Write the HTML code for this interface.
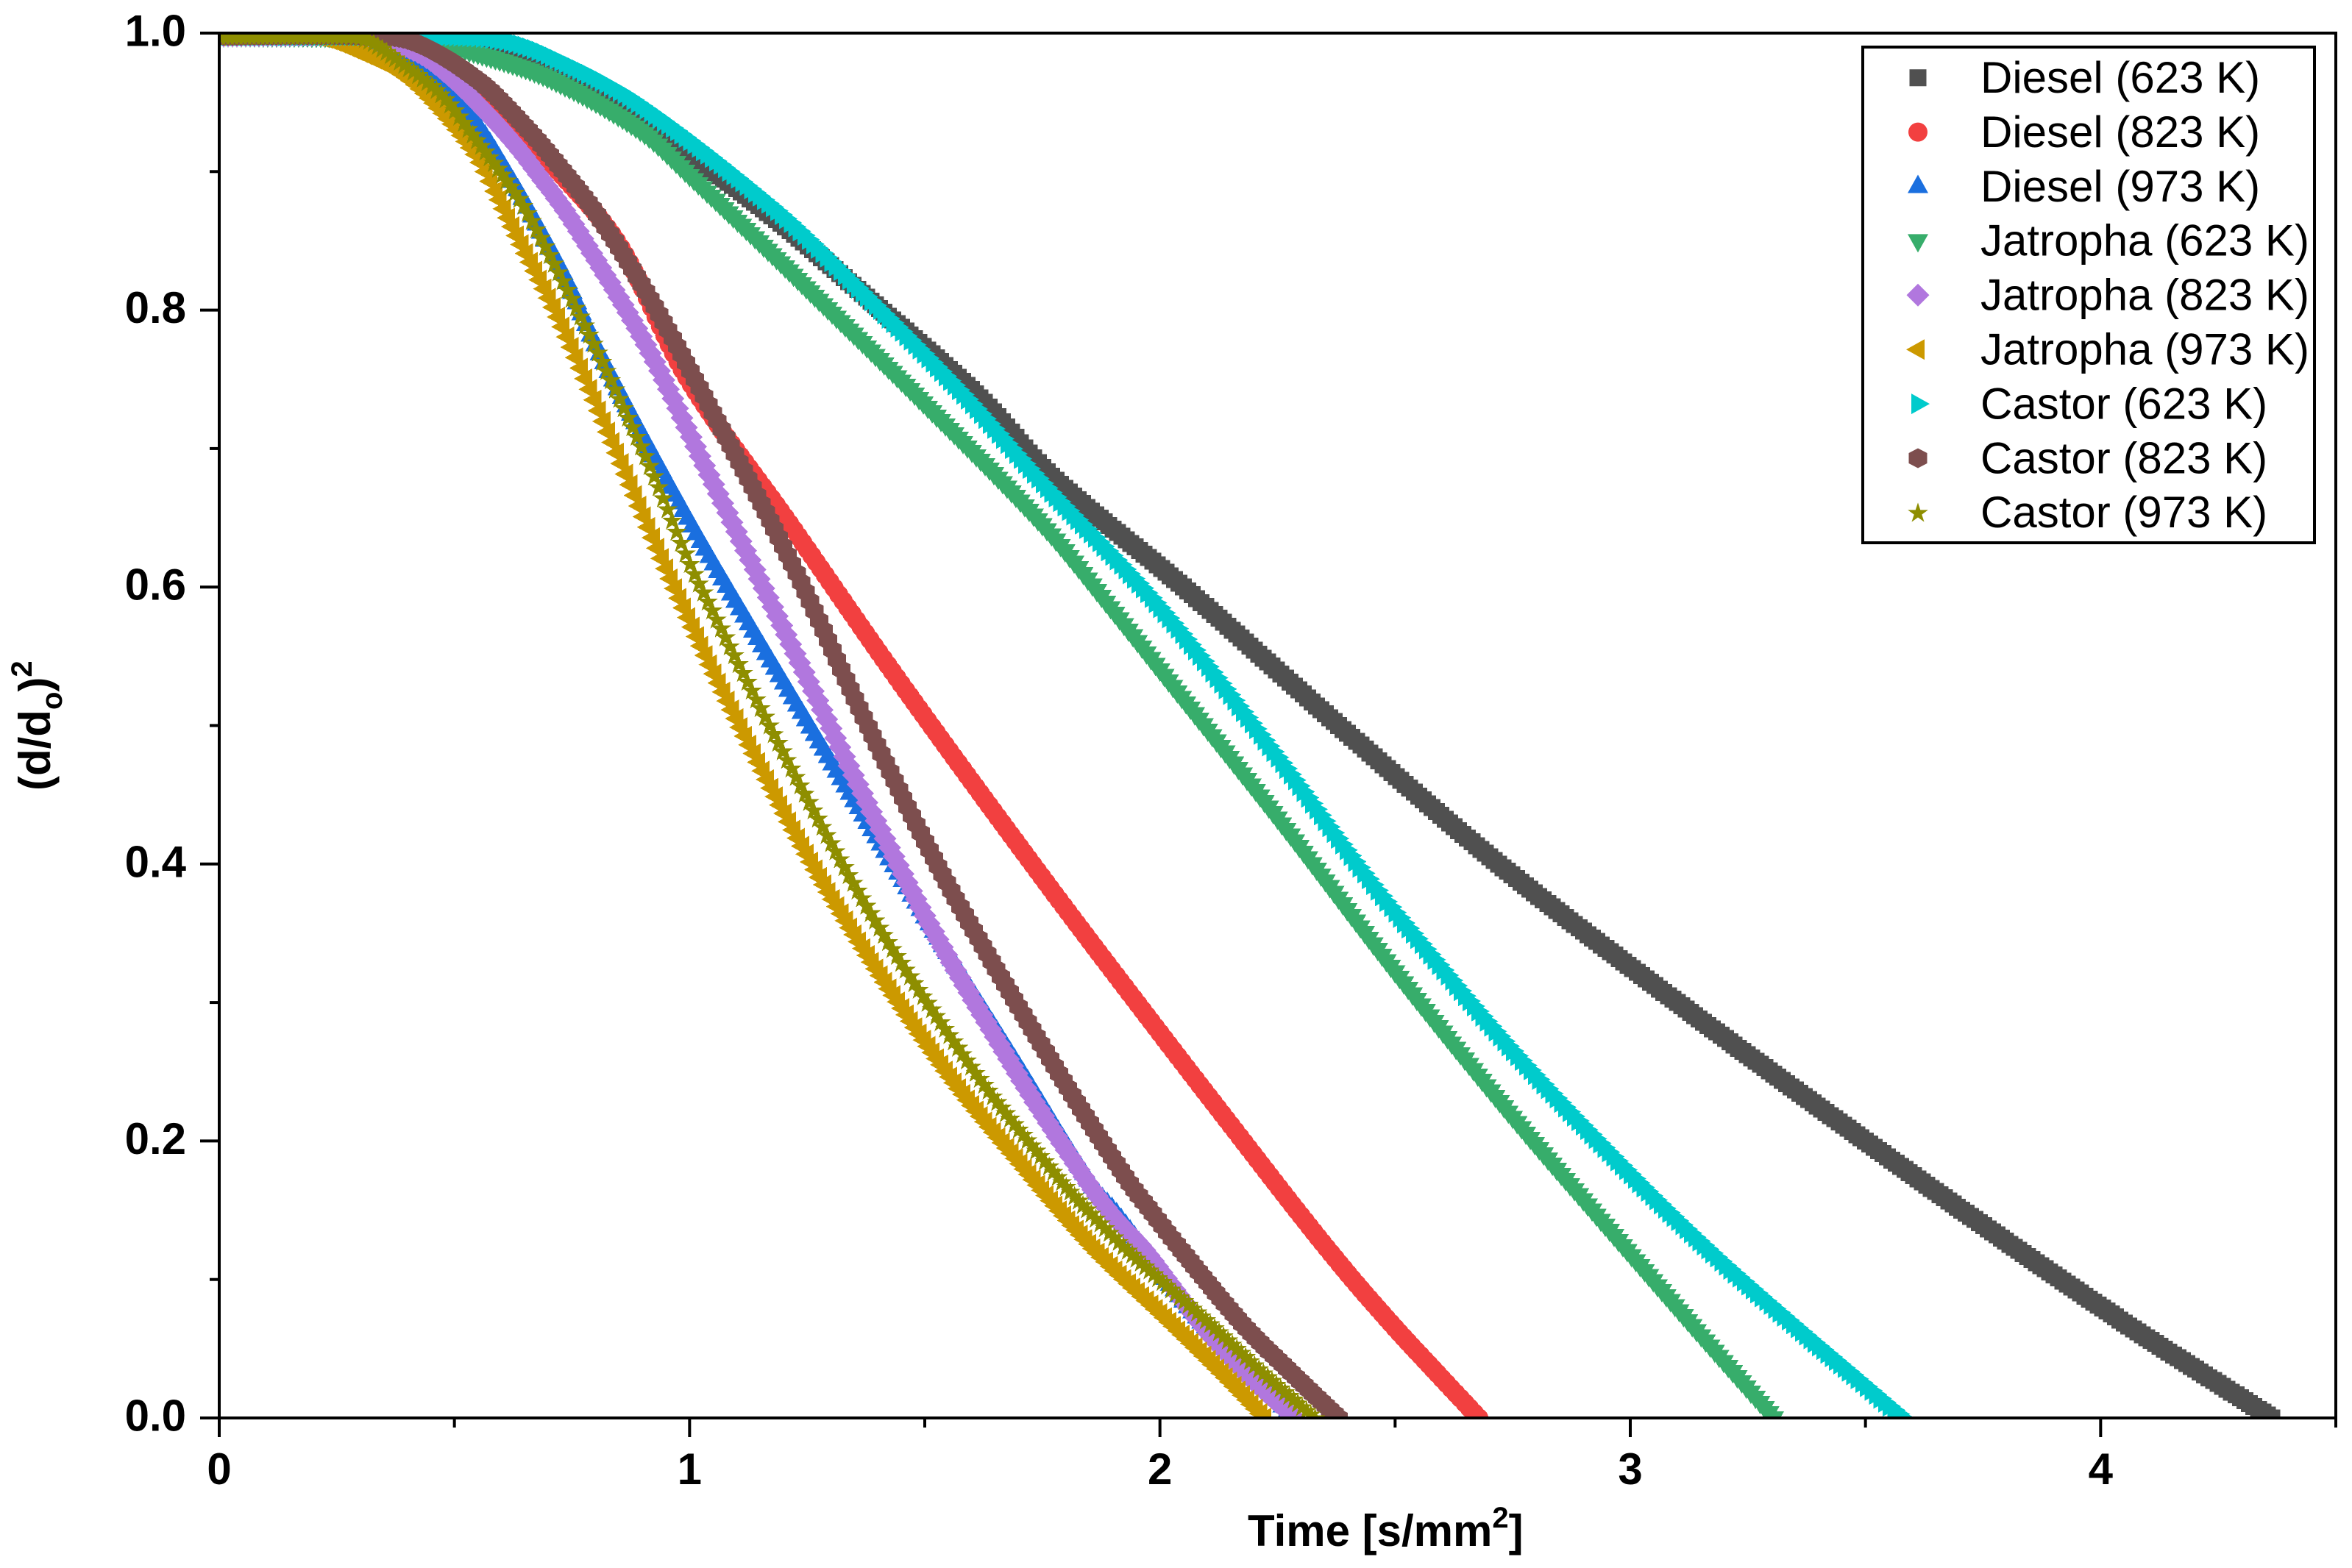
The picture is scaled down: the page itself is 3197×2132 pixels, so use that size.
<!DOCTYPE html>
<html lang="en">
<head>
<meta charset="utf-8">
<title>Droplet evaporation d-squared chart</title>
<style>
html,body{margin:0;padding:0;background:#fff;}
svg{display:block;}
text{font-family:"Liberation Sans",Arial,sans-serif;fill:#000;}
.bold{font-weight:bold;font-size:60px;}
.legend-text{font-size:60px;}
</style>
</head>
<body>
<svg id="chart" xmlns="http://www.w3.org/2000/svg" width="3197" height="2132" viewBox="0 0 3197 2132">
<rect x="0" y="0" width="3197" height="2132" fill="#fff"/>
<defs><clipPath id="plot-clip"><rect x="298" y="45" width="2877" height="1883"/></clipPath></defs>
<g id="series-layer" clip-path="url(#plot-clip)"></g>
<g id="axes-layer" stroke="#000" stroke-width="4" fill="none"></g>
<g id="labels-layer"></g>
<text class="bold" x="1696" y="2102">Time [s/mm<tspan font-size="40" dy="-25">2</tspan><tspan dy="25">]</tspan></text>
<text class="bold" transform="translate(68,1075) rotate(-90)" x="0" y="0">(d/d<tspan font-size="40" dy="16">o</tspan><tspan dy="-16">)</tspan><tspan font-size="40" dy="-25">2</tspan></text>
<g id="legend">
<rect x="2532" y="64" width="614" height="674" fill="#fff" stroke="#000" stroke-width="4"/>
</g>
</svg>
<script>
// Tick values
const xMajorTicks = [0, 1, 2, 3, 4];
const xMinorTicks = [0.5, 1.5, 2.5, 3.5, 4.5];
const yMajorTicks = [0, 0.2, 0.4, 0.6, 0.8, 1.0];
const yMinorTicks = [0.1, 0.3, 0.5, 0.7, 0.9];
const xTickLabels = ["0", "1", "2", "3", "4"];
const yTickLabels = ["0.0", "0.2", "0.4", "0.6", "0.8", "1.0"];

// Series readings: time [s/mm^2] and (d/do)^2
const diesel623Time = [0,.3,.5,.65,.8,.96,1.175,1.367,1.6175,1.77,2.05,2.38,2.72,3.1,3.5,3.826,4.06,4.24,4.364];
const diesel623Value = [.998,.997,.99,.978,.958,.922,.868,.812,.7366,.68,.6,.5,.4,.3,.2,.121,.0665,.027,0];
const diesel823Time = [0,.3,.42,.56,.64,.72,.854,.994,1.2125,1.45,1.758,2,2.17,2.3,2.4,2.5,2.59,2.678];
const diesel823Value = [.998,.998,.99,.9596,.9288,.9007,.845,.7515,.6458,.53,.3866,.278,.203,.146,.104,.065,.032,0];
const diesel973Time = [0,.2,.26,.3645,.45,.546,.624,.666,.741,.8,.923,1.07,1.444,1.7,1.858,1.908,2.079,2.223,2.28];
const diesel973Value = [.998,.998,.997,.985,.968,.935,.893,.868,.82,.775,.695,.606,.3935,.2539,.167,.1476,.073,.0255,0];
const jatropha623Time = [0,.3,.45,.55,.707,.895,1,1.176,1.257,1.469,1.75,1.895,2,2.25,2.5,2.75,2.975,3.141,3.237,3.305];
const jatropha623Value = [.998,.997,.993,.9852,.9665,.9297,.897,.84,.813,.7424,.645,.585,.54,.433,.322,.217,.128,.063,.026,0];
const jatropha823Time = [0,.28,.35,.45,.602,.707,.754,.907,1.032,1.158,1.463,1.687,1.838,1.896,1.968,2.087,2.18,2.287];
const jatropha823Value = [.998,.998,.995,.98,.93,.885,.862,.775,.6877,.599,.3866,.2539,.1742,.1476,.121,.068,.0325,0];
const jatropha973Time = [0,.2,.302,.4,.468,.546,.588,.624,.721,.8275,.9605,1.1,1.287,1.536,1.732,1.797,1.877,2.04,2.15,2.223];
const jatropha973Value = [.998,.998,.9857,.968,.9458,.9124,.8858,.8603,.795,.712,.606,.505,.385,.255,.172,.146,.116,.063,.026,0];
const castor623Time = [0,.4,.55,.629,.707,.88,1.176,1.339,1.572,1.75,2,2.25,2.405,2.5,2.75,3,3.174,3.355,3.473,3.58];
const castor623Value = [.998,.998,.997,.9926,.9827,.9517,.8744,.822,.7424,.675,.585,.477,.406,.365,.265,.176,.119,.065,.031,0];
const castor823Time = [0,.3,.41,.55,.649,.7305,.812,.926,1.04,1.218,1.38,1.547,1.776,1.926,1.985,2.046,2.175,2.28,2.38];
const castor823Value = [.998,.998,.994,.966,.933,.9007,.8646,.8025,.7318,.6166,.499,.3866,.2539,.1742,.1476,.121,.068,.0325,0];
const castor973Time = [0,.25,.31,.374,.472,.53,.629,.665,.796,.915,1.02,1.348,1.599,1.783,1.854,1.932,2.107,2.22,2.33];
const castor973Value = [.998,.998,.996,.982,.956,.931,.885,.8646,.7759,.6877,.6028,.3866,.2539,.1742,.1476,.121,.068,.0325,0];

const seriesLabels = ["Diesel (623 K)", "Diesel (823 K)", "Diesel (973 K)", "Jatropha (623 K)", "Jatropha (823 K)", "Jatropha (973 K)", "Castor (623 K)", "Castor (823 K)", "Castor (973 K)"];
const seriesKeys = ["diesel-623k", "diesel-823k", "diesel-973k", "jatropha-623k", "jatropha-823k", "jatropha-973k", "castor-623k", "castor-823k", "castor-973k"];
const seriesTimes = [diesel623Time, diesel823Time, diesel973Time, jatropha623Time, jatropha823Time, jatropha973Time, castor623Time, castor823Time, castor973Time];
const seriesValues = [diesel623Value, diesel823Value, diesel973Value, jatropha623Value, jatropha823Value, jatropha973Value, castor623Value, castor823Value, castor973Value];
const seriesColors = ["#505050", "#f24040", "#1a6fdf", "#37ad6b", "#b177de", "#cc9900", "#00cbcc", "#7d4e4e", "#8e8e00"];
const seriesShapes = ["square", "circle", "up", "down", "diamond", "left", "right", "hexagon", "star"];

const NS = "http://www.w3.org/2000/svg";
const plotLeft = 298, plotRight = 3175, plotTop = 45, plotBottom = 1928;
const xMax = 4.5, yMax = 1;
function xScale(t) { return plotLeft + (t / xMax) * (plotRight - plotLeft); }
function yScale(v) { return plotBottom - (v / yMax) * (plotBottom - plotTop); }

function poly(x, y, pts) {
  let d = "";
  for (let i = 0; i < pts.length; i++) {
    d += (i ? "L" : "M") + (x + pts[i][0]).toFixed(1) + " " + (y + pts[i][1]).toFixed(1);
  }
  return d + "Z";
}
function glyph(shape, x, y) {
  switch (shape) {
    case "square": return poly(x, y, [[-11.5,-11.5],[11.5,-11.5],[11.5,11.5],[-11.5,11.5]]);
    case "circle": return "M" + (x - 13).toFixed(1) + " " + y.toFixed(1) + "a13 13 0 1 0 26 0a13 13 0 1 0 -26 0Z";
    case "up": return poly(x, y, [[0,-16],[14,9],[-14,9]]);
    case "down": return poly(x, y, [[-14,-9],[14,-9],[0,16]]);
    case "diamond": return poly(x, y, [[0,-15.5],[15.5,0],[0,15.5],[-15.5,0]]);
    case "left": return poly(x, y, [[-16,0],[9,-14],[9,14]]);
    case "right": return poly(x, y, [[16,0],[-9,14],[-9,-14]]);
    case "hexagon": return poly(x, y, [[0,-13.5],[12.5,-7],[12.5,7],[0,13.5],[-12.5,7],[-12.5,-7]]);
    case "star": {
      const pts = [];
      for (let i = 0; i < 10; i++) {
        const r = i % 2 ? 5.6 : 14.5;
        const a = -Math.PI / 2 + i * Math.PI / 5;
        pts.push([r * Math.cos(a), r * Math.sin(a)]);
      }
      return poly(x, y + 1, pts);
    }
  }
  return "";
}

// Marker band: the series marker repeated along a smooth line through the readings (6 px pitch)
function tangent(xs, ys, i) {
  if (i === 0) return (ys[1] - ys[0]) / (xs[1] - xs[0]);
  if (i === xs.length - 1) return (ys[i] - ys[i - 1]) / (xs[i] - xs[i - 1]);
  return (ys[i + 1] - ys[i - 1]) / (xs[i + 1] - xs[i - 1]);
}
function bandPath(shape, times, values) {
  let d = "";
  const step = 6;
  const xs = times.map(xScale);
  const ys = values.map(yScale);
  for (let i = 0; i < xs.length - 1; i++) {
    const h = xs[i + 1] - xs[i];
    const m0 = tangent(xs, ys, i) * h;
    const m1 = tangent(xs, ys, i + 1) * h;
    const n = Math.max(1, Math.round(h / step));
    for (let k = 0; k < n; k++) {
      const f = k / n;
      const f2 = f * f;
      const f3 = f2 * f;
      const y = (2 * f3 - 3 * f2 + 1) * ys[i] + (f3 - 2 * f2 + f) * m0 + (-2 * f3 + 3 * f2) * ys[i + 1] + (f3 - f2) * m1;
      d += glyph(shape, xs[i] + h * f, y);
    }
  }
  return d;
}

const seriesLayer = document.getElementById("series-layer");
for (let s = 0; s < seriesKeys.length; s++) {
  const group = document.createElementNS(NS, "g");
  
  
  group.setAttribute("fill", seriesColors[s]);
  group.setAttribute("shape-rendering", "crispEdges");
  const band = document.createElementNS(NS, "path");
  
  
  band.setAttribute("d", bandPath(seriesShapes[s], seriesTimes[s], seriesValues[s]));
  group.appendChild(band);
  for (let i = 0; i < seriesTimes[s].length; i++) {
    const point = document.createElementNS(NS, "path");
    
    
    point.setAttribute("d", glyph(seriesShapes[s], xScale(seriesTimes[s][i]), yScale(seriesValues[s][i])));
    group.appendChild(point);
  }
  seriesLayer.appendChild(group);
}

const axes = document.getElementById("axes-layer");
function addLine(name, x1, y1, x2, y2) {
  const l = document.createElementNS(NS, "line");
  
  
  l.setAttribute("x1", x1);
  l.setAttribute("y1", y1);
  l.setAttribute("x2", x2);
  l.setAttribute("y2", y2);
  axes.appendChild(l);
}
addLine("x-axis-line", plotLeft - 2, plotBottom, plotRight + 2, plotBottom);
addLine("y-axis-line", plotLeft, plotTop - 2, plotLeft, plotBottom + 2);
addLine("top-frame-line", plotLeft - 2, plotTop, plotRight + 2, plotTop);
addLine("right-frame-line", plotRight, plotTop - 2, plotRight, plotBottom + 2);
xMajorTicks.forEach(function (t) { addLine("x-major-tick", xScale(t), plotBottom, xScale(t), plotBottom + 26); });
xMinorTicks.forEach(function (t) { addLine("x-minor-tick", xScale(t), plotBottom, xScale(t), plotBottom + 13); });
yMajorTicks.forEach(function (v) { addLine("y-major-tick", plotLeft - 26, yScale(v), plotLeft, yScale(v)); });
yMinorTicks.forEach(function (v) { addLine("y-minor-tick", plotLeft - 13, yScale(v), plotLeft, yScale(v)); });

const labels = document.getElementById("labels-layer");
xMajorTicks.forEach(function (t, i) {
  const el = document.createElementNS(NS, "text");
  
  
  el.setAttribute("class", "bold");
  el.setAttribute("text-anchor", "middle");
  el.setAttribute("x", xScale(t));
  el.setAttribute("y", 2018);
  el.textContent = xTickLabels[i];
  labels.appendChild(el);
});
yMajorTicks.forEach(function (v, i) {
  const el = document.createElementNS(NS, "text");
  
  
  el.setAttribute("class", "bold");
  el.setAttribute("text-anchor", "end");
  el.setAttribute("x", 253);
  el.setAttribute("y", yScale(v) + 17.5);
  el.textContent = yTickLabels[i];
  labels.appendChild(el);
});

const legend = document.getElementById("legend");
for (let s = 0; s < seriesLabels.length; s++) {
  const rowY = 105.7 + 73.9 * s;
  const sym = document.createElementNS(NS, "path");
  
  
  sym.setAttribute("fill", seriesColors[s]);
  sym.setAttribute("d", glyph(seriesShapes[s], 2607, rowY));
  legend.appendChild(sym);
  const txt = document.createElementNS(NS, "text");
  
  
  txt.setAttribute("class", "legend-text");
  txt.setAttribute("x", 2692);
  txt.setAttribute("y", 126 + 73.9 * s);
  txt.textContent = seriesLabels[s];
  legend.appendChild(txt);
}
</script>
</body>
</html>
